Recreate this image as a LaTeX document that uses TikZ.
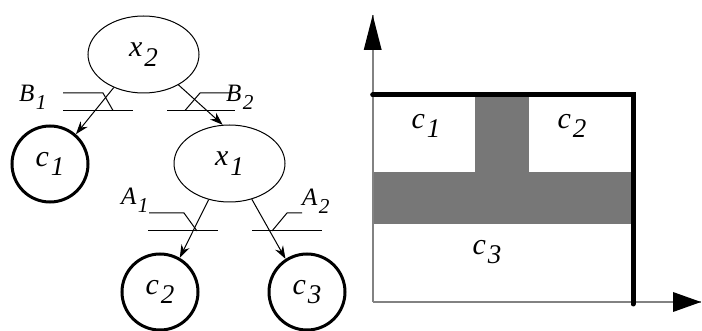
\documentclass[tikz,border=0pt]{standalone}
\usepackage{fontspec}
\setmainfont{Liberation Serif}[ItalicFont={Liberation Serif Italic}]
\usepackage{graphicx}
\usetikzlibrary{arrows.meta,shapes.geometric}

% italic symbol with a lowered italic index
\newcommand\ix[3][0.9]{{\itshape #2\kern0.06em\raisebox{-0.32em}{\scalebox{#1}{#3}}}}

\definecolor{bandgray}{RGB}{119,119,119}
\definecolor{axisgray}{RGB}{130,130,130}

\tikzset{
  oval/.style={ellipse, draw, line width=1pt, inner sep=0pt,
    minimum width=111pt, minimum height=77pt, font=\fontsize{30}{32}\selectfont},
  leaf/.style={circle, draw, line width=3pt, inner sep=0pt,
    minimum size=76pt, font=\fontsize{30}{32}\selectfont},
  branch/.style={line width=1pt, -{Stealth[length=13pt,width=9pt]}},
  bar/.style={line width=1pt},
  cond/.style={inner sep=0pt, anchor=base west, font=\fontsize{25}{27}\selectfont},
  region/.style={inner sep=0pt, font=\fontsize{30}{32}\selectfont},
  axisline/.style={draw=axisgray, line width=2pt},
  frontier/.style={line width=5pt, line cap=round, line join=miter}
}

\begin{document}
\begin{tikzpicture}[x=1pt,y=-1pt]
\path[use as bounding box] (0,0) rectangle (702,331);

% ---------------- decision tree ----------------
\node[oval] (x2) at (143.5,54.5) {\ix{x}{2}};
\node[oval] (x1) at (229.5,163.5) {\ix{x}{1}};
\node[leaf] (c1) at (50,164) {\ix{c}{1}};
\node[leaf] (c2) at (160,292) {\ix{c}{2}};
\node[leaf] (c3) at (307,292) {\ix{c}{3}};

\draw[branch] (x2.-132) -- (c1.49);
\draw[branch] (x2.-41) -- (x1.100);
\draw[branch] (x1.-120) -- (c2.60);
\draw[branch] (x1.-58) -- (c3.123);

% condition bars with their leaders
\coordinate (b1l) at (63,110.5);  \coordinate (b1r) at (133,110.5);
\coordinate (b2l) at (167,110.5); \coordinate (b2r) at (235,110.5);
\coordinate (a1l) at (148,231);   \coordinate (a1r) at (218,231);
\coordinate (a2l) at (252,231);   \coordinate (a2r) at (322,231);
\draw[bar] (b1l) -- (b1r);
\draw[bar] (b2l) -- (b2r);
\draw[bar] (a1l) -- (a1r);
\draw[bar] (a2l) -- (a2r);

\node[cond] (B1) at (19,101.5) {\ix[0.85]{B}{1}};
\node[cond] (B2) at (226,101.5) {\ix[0.85]{B}{2}};
\node[cond] (A1) at (121,205) {\ix[0.85]{A}{1}};
\node[cond] (A2) at (302,206) {\ix[0.85]{A}{2}};

\draw[bar] (63,93) -- (103,93) -- (113,110.5);
\draw[bar] (233,93) -- (200,93) -- (185,110.5);
\draw[bar] (149,213) -- (184,213) -- (197,231);
\draw[bar] (302,213) -- (287,213) -- (272,231);

% ---------------- feature space ----------------
\coordinate (O) at (372.7,302);
\coordinate (xend) at (701,302);
\coordinate (yend) at (372.7,15);

\fill[bandgray] (372.7,172) rectangle (633,224);
\fill[bandgray] (475,95) rectangle (529,172);

\draw[axisline] (O) -- (xend);
\draw[axisline] (O) -- (yend);
\fill (yend) -- ++(-9,35) -- ++(18,0) -- cycle;
\fill (xend) -- ++(-28,-10) -- ++(0,20) -- cycle;

\draw[frontier] (372.7,95) -- (633,95) -- (633,304);

\node[region] (r1) at (426,126) {\ix{c}{1}};
\node[region] (r2) at (572,126) {\ix{c}{2}};
\node[region] (r3) at (487,252) {\ix{c}{3}};
\end{tikzpicture}
\end{document}
